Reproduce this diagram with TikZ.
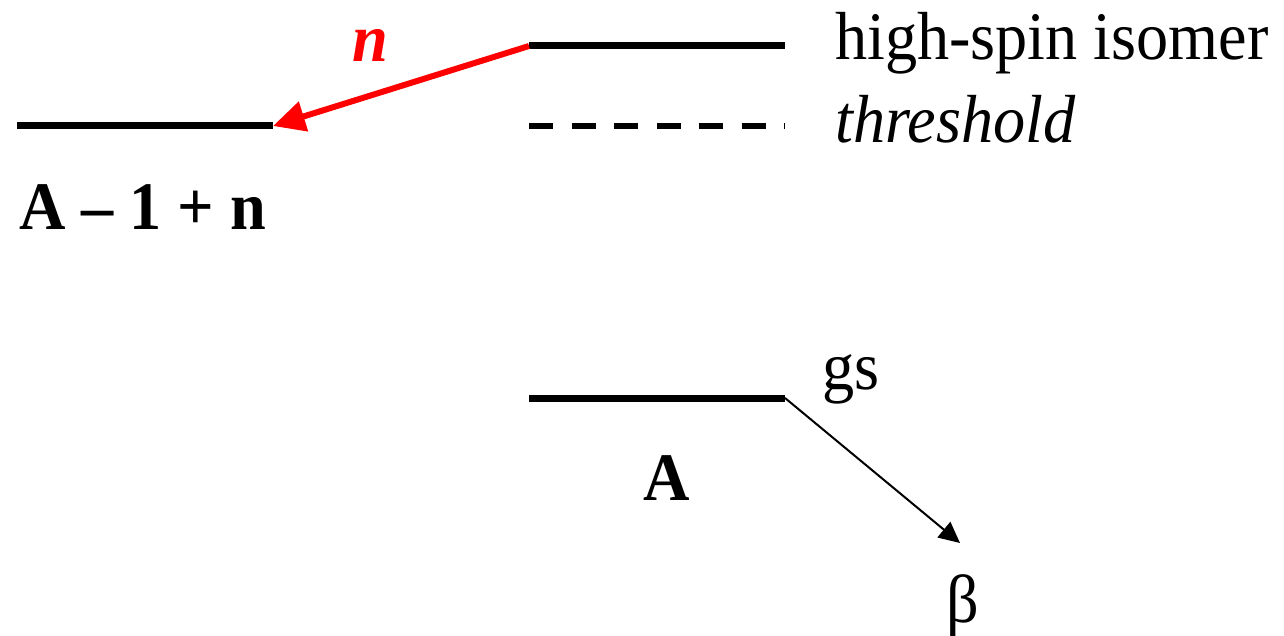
\documentclass[tikz,border=0pt]{standalone}
\usepackage{fontspec}
\setmainfont[FakeStretch=0.945]{Liberation Serif}
\usetikzlibrary{arrows.meta}
\begin{document}
\begin{tikzpicture}[x=1pt,y=-1pt,
  level/.style={line width=7pt,line cap=butt},
  lbl/.style={inner sep=0pt,font=\fontsize{68}{80}\selectfont},
  neutron/.style={red,line width=6pt,-{Triangle[length=32pt,width=30pt]}},
  beta/.style={black,line width=2pt,-{Triangle[length=21pt,width=20pt]}}]
\useasboundingbox (0,0) rectangle (1284,636);
% level end points
\coordinate (hsL) at (529,46);
\coordinate (hsR) at (785,46);
\coordinate (thL) at (529,126.5);
\coordinate (thR) at (785,126.5);
\coordinate (nL) at (17,126);
\coordinate (nR) at (273,126);
\coordinate (gsL) at (529,398);
\coordinate (gsR) at (785,398);
\coordinate (betaEnd) at (960,543);
% levels
\draw[level] (hsL) -- (hsR);
\draw[level,line width=6pt,dash pattern=on 24pt off 18.5pt] (thL) -- (thR);
\draw[level] (nL) -- (nR);
\draw[level] (gsL) -- (gsR);
% transitions
\draw[neutron] (hsL) -- (nR);
\draw[beta] (gsR) -- (betaEnd);
% labels
\node[lbl,anchor=base west] (hsT) at (835,60) {high-spin isomer};
\node[lbl,anchor=base west] (thT) at (835,143) {\itshape threshold};
\node[lbl,anchor=base west] (nT) at (19,230) {\bfseries A – 1 + n};
\node[lbl,anchor=base] (aT) at (667,500) {\bfseries A};
\node[lbl,anchor=base west] (gsT) at (822,389) {gs};
\node[lbl,anchor=base west] (bT) at (946,622) {β};
\node[lbl,anchor=base west,text=red] (nlab) at (352,62) {\bfseries\itshape n};
\end{tikzpicture}
\end{document}
